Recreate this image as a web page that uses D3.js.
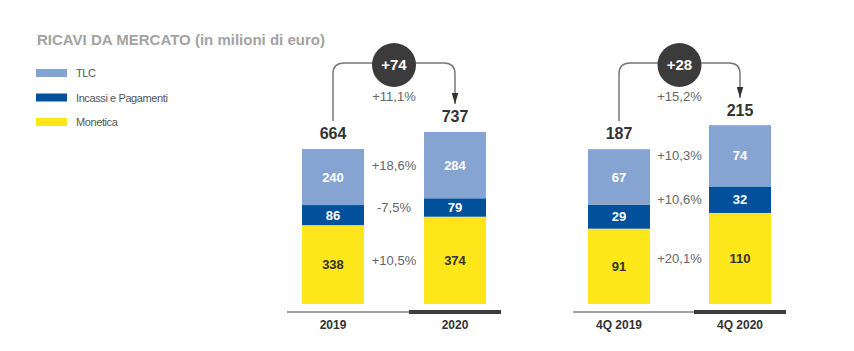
<!DOCTYPE html>
<html>
<head>
<meta charset="utf-8">
<script src="https://cdn.jsdelivr.net/npm/d3@7"></script>
<style>
  body { margin: 0; background: #fff; }
  svg { display: block; font-family: "Liberation Sans", Arial, sans-serif; }
</style>
</head>
<body>
<svg></svg>
<script>
var width = 854, height = 351;

// data
var series = ["TLC", "Incassi e Pagamenti", "Monetica"];
var colors = ["#86a4d2", "#01509b", "#fde619"];
var yearLabels = ["2019", "2020"];
var quarterLabels = ["4Q 2019", "4Q 2020"];
var yearValues = [[240, 86, 338], [284, 79, 374]];      // TLC, Incassi, Monetica
var quarterValues = [[67, 29, 91], [74, 32, 110]];
var yearTotals = [664, 737];
var quarterTotals = [187, 215];
var yearDelta = "+74", yearDeltaPct = "+11,1%";
var quarterDelta = "+28", quarterDeltaPct = "+15,2%";
var yearSeriesPct = ["+18,6%", "-7,5%", "+10,5%"];
var quarterSeriesPct = ["+10,3%", "+10,6%", "+20,1%"];

var svg = d3.select("svg")
    .attr("width", width)
    .attr("height", height);

// title
svg.append("text")
    .attr("x", 37)
    .attr("y", 45)
    .attr("fill", "#a3a3a3")
    .attr("font-weight", "bold")
    .attr("font-size", 15)
    .attr("textLength", 288)
    .attr("lengthAdjust", "spacingAndGlyphs")
    .text("RICAVI DA MERCATO (in milioni di euro)");

// legend
var legend = svg.selectAll("g.legend")
    .data(series)
    .join("g")
    .attr("class", "legend")
    .attr("transform", function(d, i) { return "translate(36," + (69 + i * 24.5) + ")"; });
legend.append("rect")
    .attr("width", 31)
    .attr("height", 8)
    .attr("fill", function(d, i) { return colors[i]; });
legend.append("text")
    .attr("x", 40)
    .attr("y", 8)
    .attr("font-size", 11)
    .attr("letter-spacing", -0.4)
    .attr("fill", "#555")
    .text(function(d) { return d; });

// arrow marker
svg.append("defs").append("marker")
    .attr("id", "arrow")
    .attr("viewBox", "0 0 10 6")
    .attr("refX", 10).attr("refY", 3)
    .attr("markerUnits", "userSpaceOnUse")
    .attr("markerWidth", 11).attr("markerHeight", 7)
    .attr("orient", "auto")
    .append("path")
    .attr("d", "M0,0L10,3L0,6Z")
    .attr("fill", "#333");

function drawGroup(opt) {
    var g = svg.append("g");
    var barW = 62;
    var x = d3.scaleBand()
        .domain(opt.labels)
        .range([opt.x0, opt.x1])
        .paddingInner(1 - barW / (opt.x1 - opt.x0 - barW))
        .paddingOuter(0);
    var y = d3.scaleLinear()
        .domain([0, d3.max(opt.totals)])
        .range([304, opt.topY]);

    opt.values.forEach(function(vals, i) {
        var cx = x(opt.labels[i]) + x.bandwidth() / 2;
        var stack = [];
        var base = 0;
        // stacked from bottom: Monetica, Incassi, TLC
        [2, 1, 0].forEach(function(k) {
            stack.push({ k: k, y0: base, y1: base + vals[k] });
            base += vals[k];
        });
        g.selectAll(null)
            .data(stack)
            .join("rect")
            .attr("x", x(opt.labels[i]))
            .attr("width", x.bandwidth())
            .attr("y", function(d) { return y(d.y1); })
            .attr("height", function(d) { return y(d.y0) - y(d.y1); })
            .attr("fill", function(d) { return colors[d.k]; });
        g.selectAll(null)
            .data(stack)
            .join("text")
            .attr("x", cx)
            .attr("y", function(d) { return (y(d.y0) + y(d.y1)) / 2; })
            .attr("dy", "0.36em")
            .attr("text-anchor", "middle")
            .attr("font-weight", "bold")
            .attr("font-size", 13)
            .attr("fill", function(d) { return d.k === 2 ? "#333" : "#fff"; })
            .text(function(d) { return vals[d.k]; });
        // total label
        g.append("text")
            .attr("x", cx)
            .attr("y", y(opt.totals[i]) - 10)
            .attr("text-anchor", "middle")
            .attr("font-weight", "bold")
            .attr("font-size", 16)
            .attr("fill", "#333")
            .text(opt.totals[i]);
        if (i === 1) {
            // percentage changes per series
            var mid = (x(opt.labels[0]) + x.bandwidth() + x(opt.labels[1])) / 2;
            g.selectAll(null)
                .data(stack)
                .join("text")
                .attr("x", mid)
                .attr("y", function(d) { return (y(d.y0) + y(d.y1)) / 2; })
                .attr("dy", "0.36em")
                .attr("text-anchor", "middle")
                .attr("font-size", 13)
                .attr("fill", "#666")
                .text(function(d) { return opt.pcts[d.k]; });
        }
    });

    // connector
    var ax = x(opt.labels[0]) + x.bandwidth() / 2;
    var bx = x(opt.labels[1]) + x.bandwidth() / 2;
    var ay = y(opt.totals[0]) - 28;
    var by = y(opt.totals[1]) - 28;
    var top = 63, rr = 11;
    var cx = (ax + bx) / 2;
    g.append("path")
        .attr("d", "M" + ax + "," + ay + "V" + (top + rr) + "Q" + ax + "," + top + " " + (ax + rr) + "," + top +
            "H" + (bx - rr) + "Q" + bx + "," + top + " " + bx + "," + (top + rr) + "V" + by)
        .attr("fill", "none")
        .attr("stroke", "#777")
        .attr("stroke-width", 1.5)
        .attr("marker-end", "url(#arrow)");
    g.append("circle")
        .attr("cx", cx).attr("cy", 65).attr("r", 22)
        .attr("fill", "#3b3b3b");
    g.append("text")
        .attr("x", cx).attr("y", 65).attr("dy", "0.36em")
        .attr("text-anchor", "middle")
        .attr("font-weight", "bold")
        .attr("font-size", 15)
        .attr("fill", "#fff")
        .text(opt.delta);
    g.append("text")
        .attr("x", cx).attr("y", 96).attr("dy", "0.36em")
        .attr("text-anchor", "middle")
        .attr("font-size", 13)
        .attr("fill", "#666")
        .text(opt.deltaPct);

    // axis baseline
    g.append("line")
        .attr("x1", opt.lineX0).attr("x2", opt.lineMid)
        .attr("y1", 312).attr("y2", 312)
        .attr("stroke", "#444").attr("stroke-width", 1.2);
    g.append("line")
        .attr("x1", opt.lineMid).attr("x2", opt.lineX1)
        .attr("y1", 312).attr("y2", 312)
        .attr("stroke", "#3d3d3d").attr("stroke-width", 4);

    var axis = d3.axisBottom(x).tickSize(0).tickPadding(0);
    var ax2 = g.append("g")
        .attr("transform", "translate(0,320)")
        .call(axis);
    ax2.select(".domain").remove();
    ax2.selectAll("text")
        .attr("dy", "0.71em")
        .attr("font-family", "Liberation Sans, Arial, sans-serif")
        .attr("font-weight", "bold")
        .attr("font-size", 12)
        .attr("fill", "#333");
}

drawGroup({
    labels: yearLabels, values: yearValues, totals: yearTotals,
    pcts: yearSeriesPct, delta: yearDelta, deltaPct: yearDeltaPct,
    x0: 302, x1: 486, topY: 132,
    lineX0: 287, lineMid: 409, lineX1: 501
});
drawGroup({
    labels: quarterLabels, values: quarterValues, totals: quarterTotals,
    pcts: quarterSeriesPct, delta: quarterDelta, deltaPct: quarterDeltaPct,
    x0: 588, x1: 771, topY: 126,
    lineX0: 573, lineMid: 694, lineX1: 786
});
</script>
</body>
</html>
